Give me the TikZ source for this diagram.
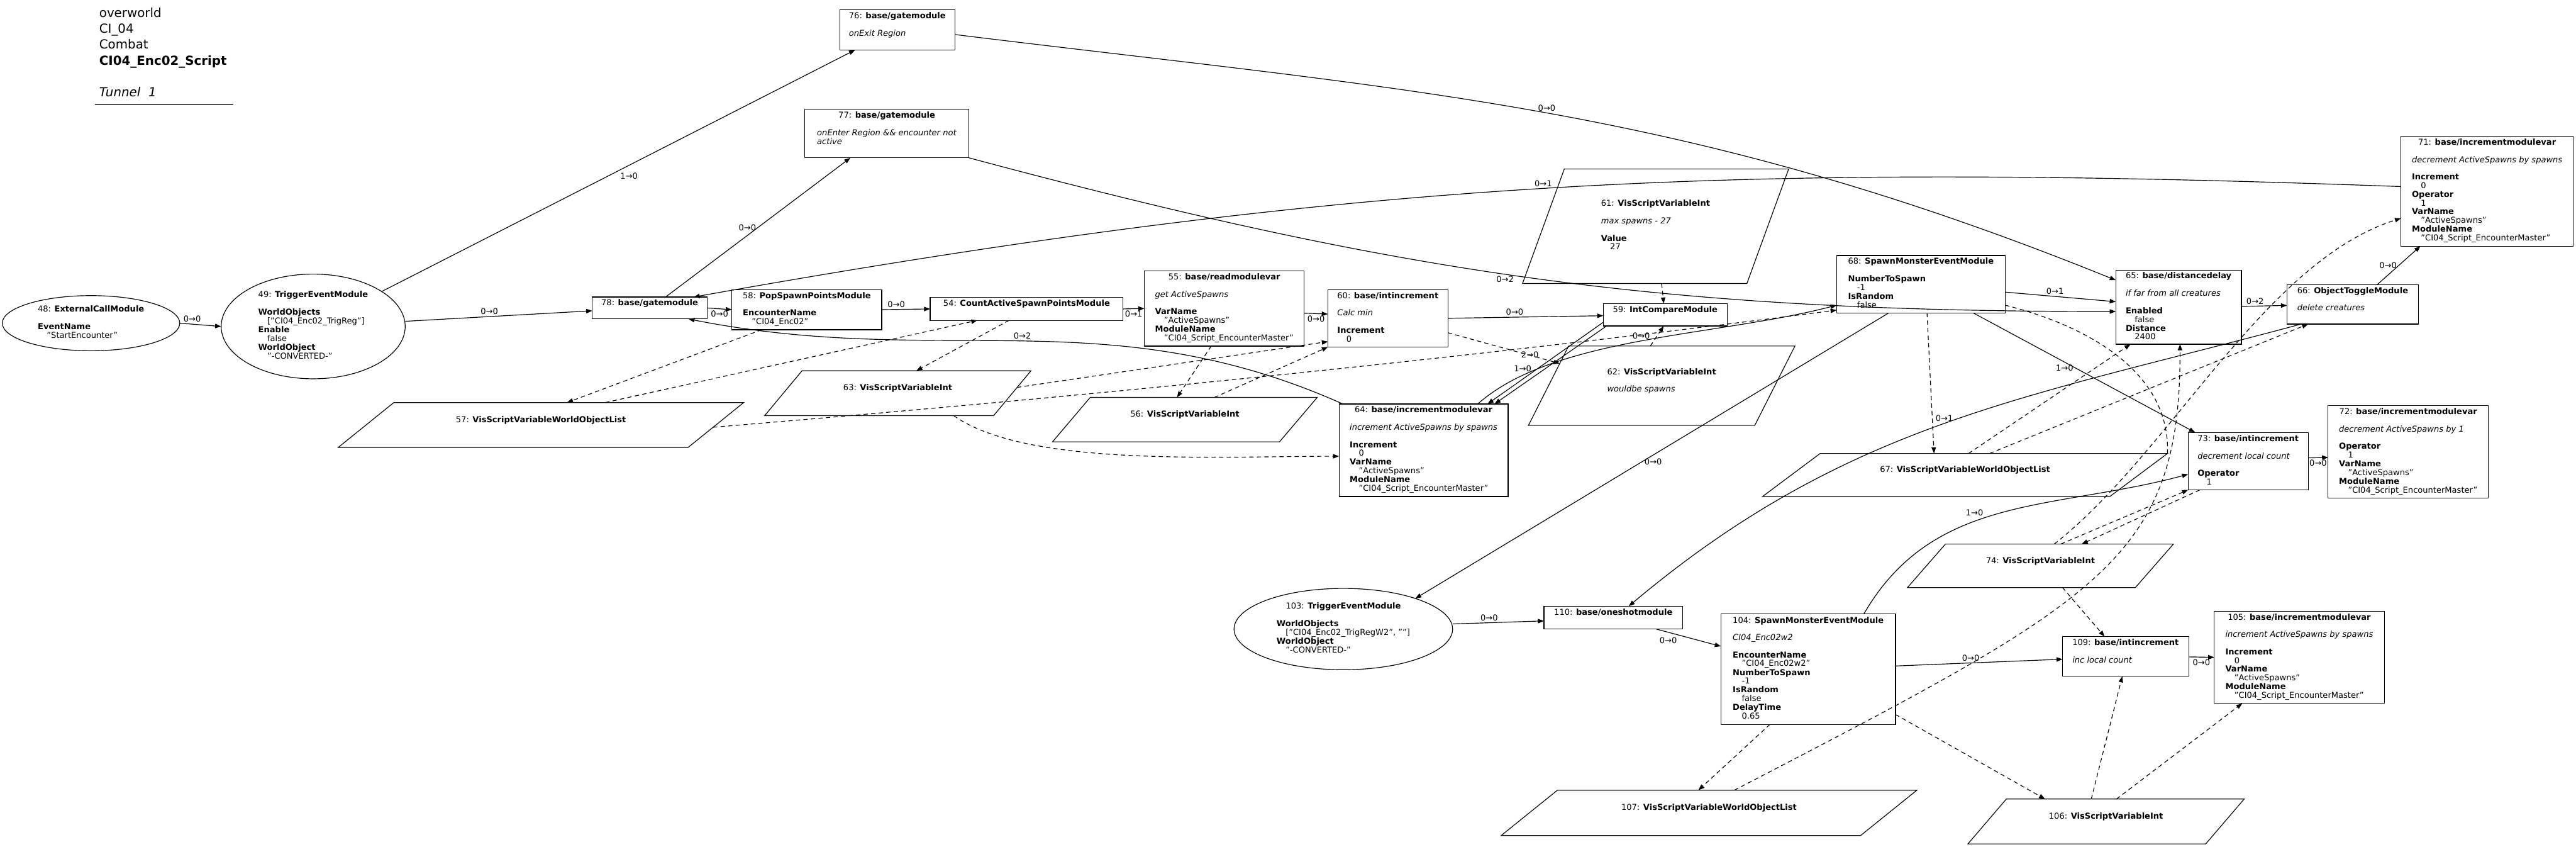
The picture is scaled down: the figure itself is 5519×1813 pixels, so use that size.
\documentclass[tikz,border=0pt]{standalone}
\usepackage{fontspec}
\setmainfont{DejaVu Sans}
\usetikzlibrary{shapes.geometric,arrows.meta,calc,positioning}
\tikzset{>={Triangle[length=3.7pt,width=2.7pt]}}
\tikzset{
  mod/.style={draw, rectangle, line width=0.45pt, inner sep=0pt, outer sep=0pt},
  evt/.style={draw, ellipse, line width=0.45pt, inner sep=0pt, outer sep=0pt},
  var/.style={draw, trapezium, trapezium stretches=true, trapezium left angle=#1,
    trapezium right angle=180-#1, line width=0.45pt, inner sep=0pt, outer sep=0pt},
  flow/.style={->, line width=0.45pt},
  link/.style={->, line width=0.45pt, dash pattern=on 2.6pt off 2pt},
  lbl/.style={inner sep=1pt},
}
\newcommand{\hd}[2]{\multicolumn{1}{@{}c@{}}{#1: \textbf{#2}}}
\newcommand{\vv}[1]{\hspace*{5.5pt}#1}
\newcommand{\kk}[1]{\textbf{#1}}
\newenvironment{mtab}{\begin{tabular}{@{}l@{}}}{\end{tabular}}

\begin{document}
\begin{tikzpicture}[x=0.01cm, y=-0.01cm, font=\fontsize{5}{5.25}\selectfont]
\useasboundingbox (0,0) rectangle (5519,1813);
%% title
\node[anchor=west, inner sep=0pt, align=left, font=\fontsize{7.6}{9.7}\selectfont] (title) at (212,112)
  {overworld\\CI\_04\\Combat\\\textbf{CI04\_Enc02\_Script}\\ \\\textit{Tunnel\ \ 1}};
\draw[line width=0.7pt, black!70] (203,224) -- (500,224);

%% events
\node[evt, minimum width=3.8cm, minimum height=1.18cm] (n48) at (195,692)
  {\begin{mtab}\hd{48}{ExternalCallModule}\\ \\ \kk{EventName}\\ \vv{"StartEncounter"}\end{mtab}};
\node[evt, minimum width=3.94cm, minimum height=2.24cm] (n49) at (671,699)
  {\begin{mtab}\hd{49}{TriggerEventModule}\\ \\ \kk{WorldObjects}\\ \vv{["CI04\_Enc02\_TrigReg"]}\\ \kk{Enable}\\ \vv{false}\\ \kk{WorldObject}\\ \vv{"-CONVERTED-"}\end{mtab}};
\node[evt, minimum width=4.68cm, minimum height=1.74cm] (n103) at (2878,1347)
  {\begin{mtab}\hd{103}{TriggerEventModule}\\ \\ \kk{WorldObjects}\\ \vv{["CI04\_Enc02\_TrigRegW2", ""]}\\ \kk{WorldObject}\\ \vv{"-CONVERTED-"}\end{mtab}};

%% modules
\node[mod, minimum width=2.47cm, minimum height=0.86cm] (n76) at (1922.5,64)
  {\begin{mtab}\hd{76}{base/gatemodule}\\ \\ \textit{onExit Region}\\ ~\end{mtab}};
\node[mod, minimum width=3.52cm, minimum height=1.04cm] (n77) at (1900,286)
  {\begin{mtab}\hd{77}{base/gatemodule}\\ \\ \textit{onEnter Region \&\& encounter not}\\ \textit{active}\\ ~\end{mtab}};
\node[mod, minimum width=2.46cm, minimum height=0.47cm] (n78) at (1392,659.5)
  {\begin{mtab}\hd{78}{base/gatemodule}\\ ~\end{mtab}};
\node[mod, minimum width=3.21cm, minimum height=0.86cm] (n58) at (1728.5,663)
  {\begin{mtab}\hd{58}{PopSpawnPointsModule}\\ \\ \kk{EncounterName}\\ \vv{"CI04\_Enc02"}\end{mtab}};
\node[mod, minimum width=4.13cm, minimum height=0.49cm] (n54) at (2199.5,661.5)
  {\begin{mtab}\hd{54}{CountActiveSpawnPointsModule}\\ ~\end{mtab}};
\node[mod, minimum width=3.42cm, minimum height=1.61cm] (n55) at (2623,660.5)
  {\begin{mtab}\hd{55}{base/readmodulevar}\\ \\ \textit{get ActiveSpawns}\\ \\ \kk{VarName}\\ \vv{"ActiveSpawns"}\\ \kk{ModuleName}\\ \vv{"CI04\_Script\_EncounterMaster"}\end{mtab}};
\node[mod, minimum width=2.57cm, minimum height=1.23cm] (n60) at (2973.5,681.5)
  {\begin{mtab}\hd{60}{base/intincrement}\\ \\ \textit{Calc min}\\ \\ \kk{Increment}\\ \vv{0}\end{mtab}};
\node[mod, minimum width=2.65cm, minimum height=0.48cm] (n59) at (3567.5,674)
  {\begin{mtab}\hd{59}{IntCompareModule}\\ ~\end{mtab}};
\node[mod, minimum width=3.62cm, minimum height=1.98cm] (n64) at (3050,964)
  {\begin{mtab}\hd{64}{base/incrementmodulevar}\\ \\ \textit{increment ActiveSpawns by spawns}\\ \\ \kk{Increment}\\ \vv{0}\\ \kk{VarName}\\ \vv{"ActiveSpawns"}\\ \kk{ModuleName}\\ \vv{"CI04\_Script\_EncounterMaster"}\end{mtab}};
\node[mod, minimum width=3.61cm, minimum height=1.23cm] (n68) at (4115.5,608.5)
  {\begin{mtab}\hd{68}{SpawnMonsterEventModule}\\ \\ \kk{NumberToSpawn}\\ \vv{-1}\\ \kk{IsRandom}\\ \vv{false}\end{mtab}};
\node[mod, minimum width=2.69cm, minimum height=1.58cm] (n65) at (4667.5,658)
  {\begin{mtab}\hd{65}{base/distancedelay}\\ \\ \textit{if far from all creatures}\\ \\ \kk{Enabled}\\ \vv{false}\\ \kk{Distance}\\ \vv{2400}\end{mtab}};
\node[mod, minimum width=2.81cm, minimum height=0.84cm] (n66) at (5040.5,652)
  {\begin{mtab}\hd{66}{ObjectToggleModule}\\ \\ \textit{delete creatures}\\ ~\end{mtab}};
\node[mod, minimum width=3.69cm, minimum height=2.35cm] (n71) at (5328.5,409.5)
  {\begin{mtab}\hd{71}{base/incrementmodulevar}\\ \\ \textit{decrement ActiveSpawns by spawns}\\ \\ \kk{Increment}\\ \vv{0}\\ \kk{Operator}\\ \vv{1}\\ \kk{VarName}\\ \vv{"ActiveSpawns"}\\ \kk{ModuleName}\\ \vv{"CI04\_Script\_EncounterMaster"}\end{mtab}};
\node[mod, minimum width=3.43cm, minimum height=1.97cm] (n72) at (5159.5,967.5)
  {\begin{mtab}\hd{72}{base/incrementmodulevar}\\ \\ \textit{decrement ActiveSpawns by 1}\\ \\ \kk{Operator}\\ \vv{1}\\ \kk{VarName}\\ \vv{"ActiveSpawns"}\\ \kk{ModuleName}\\ \vv{"CI04\_Script\_EncounterMaster"}\end{mtab}};
\node[mod, minimum width=2.57cm, minimum height=1.23cm] (n73) at (4816.5,987.5)
  {\begin{mtab}\hd{73}{base/intincrement}\\ \\ \textit{decrement local count}\\ \\ \kk{Operator}\\ \vv{1}\end{mtab}};
\node[mod, minimum width=2.97cm, minimum height=0.49cm] (n110) at (3456.5,1322.5)
  {\begin{mtab}\hd{110}{base/oneshotmodule}\\ ~\end{mtab}};
\node[mod, minimum width=3.74cm, minimum height=2.36cm] (n104) at (3874,1433)
  {\begin{mtab}\hd{104}{SpawnMonsterEventModule}\\ \\ \textit{CI04\_Enc02w2}\\ \\ \kk{EncounterName}\\ \vv{"CI04\_Enc02w2"}\\ \kk{NumberToSpawn}\\ \vv{-1}\\ \kk{IsRandom}\\ \vv{false}\\ \kk{DelayTime}\\ \vv{0.65}\end{mtab}};
\node[mod, minimum width=2.70cm, minimum height=0.85cm] (n109) at (4554,1405.5)
  {\begin{mtab}\hd{109}{base/intincrement}\\ \\ \textit{inc local count}\\ ~\end{mtab}};
\node[mod, minimum width=3.64cm, minimum height=1.97cm] (n105) at (4926,1407.5)
  {\begin{mtab}\hd{105}{base/incrementmodulevar}\\ \\ \textit{increment ActiveSpawns by spawns}\\ \\ \kk{Increment}\\ \vv{0}\\ \kk{VarName}\\ \vv{"ActiveSpawns"}\\ \kk{ModuleName}\\ \vv{"CI04\_Script\_EncounterMaster"}\end{mtab}};

%% variables
\node[var=28.5, minimum width=8.70cm, minimum height=0.96cm] (v57) at (1159,910)
  {\begin{mtab}\hd{57}{VisScriptVariableWorldObjectList}\\ ~\end{mtab}};
\node[var=39.4, minimum width=5.73cm, minimum height=0.96cm] (v63) at (1923.5,842)
  {\begin{mtab}\hd{63}{VisScriptVariableInt}\\ ~\end{mtab}};
\node[var=38.8, minimum width=5.71cm, minimum height=0.95cm] (v56) at (2538.5,898.5)
  {\begin{mtab}\hd{56}{VisScriptVariableInt}\\ ~\end{mtab}};
\node[var=64.5, minimum width=5.72cm, minimum height=2.45cm] (v61) at (3547,484.5)
  {\begin{mtab}\hd{61}{VisScriptVariableInt}\\ \\ \textit{max spawns - 27}\\ \\ \kk{Value}\\ \vv{27}\end{mtab}};
\node[var=56, minimum width=5.72cm, minimum height=1.70cm] (v62) at (3560,826)
  {\begin{mtab}\hd{62}{VisScriptVariableInt}\\ \\ \textit{wouldbe spawns}\\ ~\end{mtab}};
\node[var=27.3, minimum width=8.68cm, minimum height=0.92cm] (v67) at (4210,1017)
  {\begin{mtab}\hd{67}{VisScriptVariableWorldObjectList}\\ ~\end{mtab}};
\node[var=38.7, minimum width=5.73cm, minimum height=0.93cm] (v74) at (4371.5,1211.5)
  {\begin{mtab}\hd{74}{VisScriptVariableInt}\\ ~\end{mtab}};
\node[var=28.2, minimum width=8.91cm, minimum height=0.97cm] (v107) at (3661.5,1740.5)
  {\begin{mtab}\hd{107}{VisScriptVariableWorldObjectList}\\ ~\end{mtab}};
\node[var=38.4, minimum width=5.96cm, minimum height=0.96cm] (v106) at (4512,1759)
  {\begin{mtab}\hd{106}{VisScriptVariableInt}\\ ~\end{mtab}};

%% flow edges
\draw[flow] (n48.east) -- node[lbl, pos=0.3, above] {0→0} (n49.west);
\draw[flow] ($(n49.east)+(0,-11)$) -- node[lbl, pos=0.45, above] {0→0} ($(n78.west)+(0,6)$);
\draw[flow] (n49.27) -- node[lbl, pos=0.5, below right] {1→0} ($(n76.south west)+(33,0)$);
\draw[flow] ($(n78.north)+(34,0)$) -- node[lbl, pos=0.5, left] {0→0} ($(n77.south west)+(98,0)$);
\draw[flow] (n78.east) -- node[lbl, pos=0.5, below] {0→0} (n58.west);
\draw[flow] (n58.east) -- node[lbl, pos=0.3, above] {0→0} (n54.west);
\draw[flow] (n54.east) -- node[lbl, pos=0.5, below] {0→1} (n55.west);
\draw[flow] ($(n55.east)+(0,10)$) -- node[lbl, pos=0.5, below] {0→0} ($(n60.west)+(0,-9)$);
\draw[flow] (n60.east) -- node[lbl, pos=0.43, above] {0→0} ($(n59.west)+(0,2)$);
\draw[flow] ($(n76.east)+(0,10)$) .. controls (3038,196) and (3606,225) .. ($(n65.north west)+(0,21)$) node[lbl, pos=0.5, above] {0→0};
\draw[flow] (n77.south east) .. controls (3013,589) and (3563,667) .. ($(n65.west)+(0,9)$) node[lbl, pos=0.47, below] {0→2};
\draw[flow] ($(n71.west)+(0,-10)$) .. controls (3707,347) and (2900,384) .. ($(n78.north east)+(-29,0)$) node[lbl, pos=0.5, above] {0→1};
\draw[flow] ($(n64.north west)+(8,0)$) .. controls (2372,640) and (2018,790) .. ($(n78.south east)+(-40,0)$) node[lbl, pos=0.5, above] {0→2};
\draw[flow] ($(n59.south west)+(0,-8)$) -- node[lbl, pos=0.4, left=0.35cm] {2→0} ($(n64.north)+(137,0)$);
\draw[flow] ($(n59.south west)+(7,0)$) -- node[lbl, pos=0.55, left=0.25cm] {1→0} ($(n64.north)+(152,0)$);
\draw[flow] ($(n64.north)+(116,0)$) .. controls (3330,720) and (3680,720) .. ($(n68.west)+(0,45)$) node[lbl, pos=0.5, above] {0→0};
\draw[flow] ($(n68.east)+(0,17)$) -- node[lbl, pos=0.45, above] {0→1} ($(n65.west)+(0,-12)$);
\draw[flow] ($(n65.east)+(0,-2)$) -- node[lbl, pos=0.3, above] {0→2} ($(n66.west)+(0,2)$);
\draw[flow] ($(n66.north)+(52,0)$) -- node[lbl, pos=0.5, left] {0→0} ($(n71.south)+(-143,0)$);
\draw[flow] ($(n68.south)+(112,0)$) -- node[lbl, pos=0.46, left] {1→0} ($(n73.north west)+(15,0)$);
\draw[flow] ($(n73.east)+(0,-7)$) -- node[lbl, pos=0.5, below] {0→0} ($(n72.west)+(0,12)$);
\draw[flow] ($(n68.south)+(-69,0)$) -- node[lbl, pos=0.52, right] {0→0} (n103.23);
\draw[flow] ($(n66.south west)+(30,0)$) .. controls (4342,852) and (3960,903) .. ($(n110.north)+(33,0)$) node[lbl, pos=0.5, above] {0→1};
\draw[flow] ($(n104.north)+(119,0)$) .. controls (4142,1057) and (4400,1093) .. ($(n73.west)+(0,28)$) node[lbl, pos=0.45, above left] {1→0};
\draw[flow] ($(n103.east)+(0,-11)$) -- node[lbl, pos=0.4, above] {0→0} ($(n110.west)+(0,7)$);
\draw[flow] ($(n110.south)+(92,0)$) -- node[lbl, pos=0.35, below left] {0→0} ($(n104.north west)+(0,69)$);
\draw[flow] ($(n104.east)+(0,-7)$) -- node[lbl, pos=0.45, above] {0→0} ($(n109.west)+(0,6)$);
\draw[flow] ($(n109.east)+(0,1)$) -- node[lbl, pos=0.5, below] {0→0} (n105.west);

%% variable links
\draw[link] ($(n58.south west)+(64,0)$) -- ($(v57.top left corner)+(371,0)$);
\draw[link] ($(v57.top left corner)+(453,0)$) -- ($(n54.south west)+(101,0)$);
\draw[link] ($(n54.south west)+(169,0)$) -- ($(v63.top left corner)+(245,0)$);
\draw[link] ($(v63.top right corner)!0.37!(v63.bottom right corner)$) -- ($(n60.west)+(0,50)$);
\draw[link] ($(v63.bottom left corner)+(405,0)$) .. controls (2200,1000) and (2600,977) .. ($(n64.west)+(0,13)$);
\draw[link] ($(n55.south)+(-28,0)$) -- ($(v56.top left corner)+(186,0)$);
\draw[link] ($(v56.top left corner)+(266,0)$) -- (n60.south west);
\draw[link] ($(v57.top right corner)!0.55!(v57.bottom right corner)$) .. controls (2310,850) and (3122,770) .. ($(n68.south west)+(0,-6)$);
\draw[link] ($(n60.east)+(0,31)$) -- ($(v62.top left corner)!0.22!(v62.bottom left corner)$);
\draw[link] ($(v62.top left corner)+(175,0)$) -- ($(n59.south)+(-3,0)$);
\draw[link] ($(v61.bottom left corner)+(298,0)$) -- ($(n59.north)+(-3,0)$);
\draw[link] ($(n68.south)+(13,0)$) -- ($(v67.top left corner)+(244,0)$);
\draw[link] ($(v67.top left corner)+(318,0)$) -- ($(n65.south)+(-103,0)$);
\draw[link] ($(v67.top left corner)+(363,0)$) -- ($(n66.south west)+(45,0)$);
\draw[link, -] ($(n68.east)+(0,45)$) .. controls (4480,700) and (4650,800) .. (v67.top right corner);
\draw[link] ($(v74.top left corner)+(233,0)$) .. controls (4650,970) and (4850,560) .. ($(n71.west)+(0,58)$);
\draw[link] ($(v107.top left corner)+(379,0)$) .. controls (4500,1285) and (4672,1200) .. ($(n65.south)+(3,0)$);
\draw[link] ($(n73.south west)+(25,0)$) -- ($(v74.top left corner)+(292,0)$);
\draw[link] ($(v74.top left corner)+(247,0)$) -- (n73.south west);
\draw[link] ($(v74.bottom left corner)+(332,0)$) -- ($(n109.north west)+(90,0)$);
\draw[link] ($(n104.south)+(-82,0)$) -- ($(v107.top left corner)+(302,0)$);
\draw[link] ($(n104.north east)+(0,215)$) -- ($(v106.top left corner)+(83,0)$);
\draw[link] ($(v106.top left corner)+(182,0)$) -- ($(n109.south west)+(128,0)$);
\draw[link] ($(v106.top left corner)+(236,0)$) -- ($(n105.south west)+(60,0)$);
\end{tikzpicture}
\end{document}
